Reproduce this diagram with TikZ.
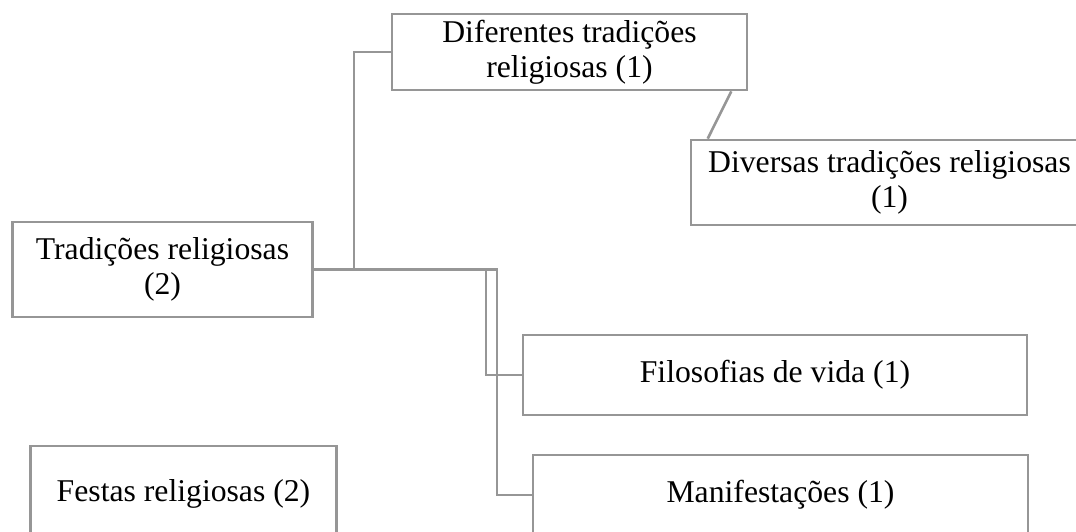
\documentclass[tikz,border=0pt]{standalone}
\usepackage{fontspec}
\setmainfont{Liberation Serif}
\usetikzlibrary{calc}
\definecolor{linegray}{RGB}{150,150,150}

\begin{document}
\begin{tikzpicture}[x=1pt,y=-1pt,
		box/.style={draw=linegray, line width=2.6pt, rectangle, inner sep=0pt, align=center,
			font=\fontsize{31.7pt}{35pt}\selectfont},
		link/.style={draw=linegray, line width=2.6pt}]
		
		\useasboundingbox (0,0) rectangle (1076,531);
		\clip (0,0) rectangle (1076,531);
		
		\node[box, minimum width=355pt, minimum height=76pt] (dif) at (569.5,52) {Diferentes tradições\\religiosas (1)};
		\node[box, minimum width=397pt, minimum height=85pt] (div) at (889.5,182.5) {Diversas tradições religiosas\\(1)};
		\node[box, minimum width=300pt, minimum height=95pt] (trad) at (162.5,269.5) {Tradições religiosas\\(2)};
		\node[box, minimum width=504pt, minimum height=80pt] (filo) at (775,375) {Filosofias de vida (1)};
		\node[box, minimum width=306pt, minimum height=96pt] (fest) at (183.5,494) {Festas religiosas (2)};
		\node[box, minimum width=495pt, minimum height=80pt] (mani) at (780.5,495) {Manifestações (1)};
		
		%\draw[style=help lines, step=20, color=gray] (0,0) grid (1076,531);
		\coordinate (difout) at ($(dif.south east)+(-17,0)$);
		\coordinate (divin) at ($(div.north west)+(18,0)$);
		
		\draw[link] (trad.east) -- ++(40,0) |- (dif.west);
		\draw[link] (trad.east) -- ++(172,0) |- (filo.west);
		\draw[link] (trad.east) -- ++(183,0) |- (mani.west);
		\draw[link] (difout) -- (divin);
		
		\end{tikzpicture}
\end{document}
